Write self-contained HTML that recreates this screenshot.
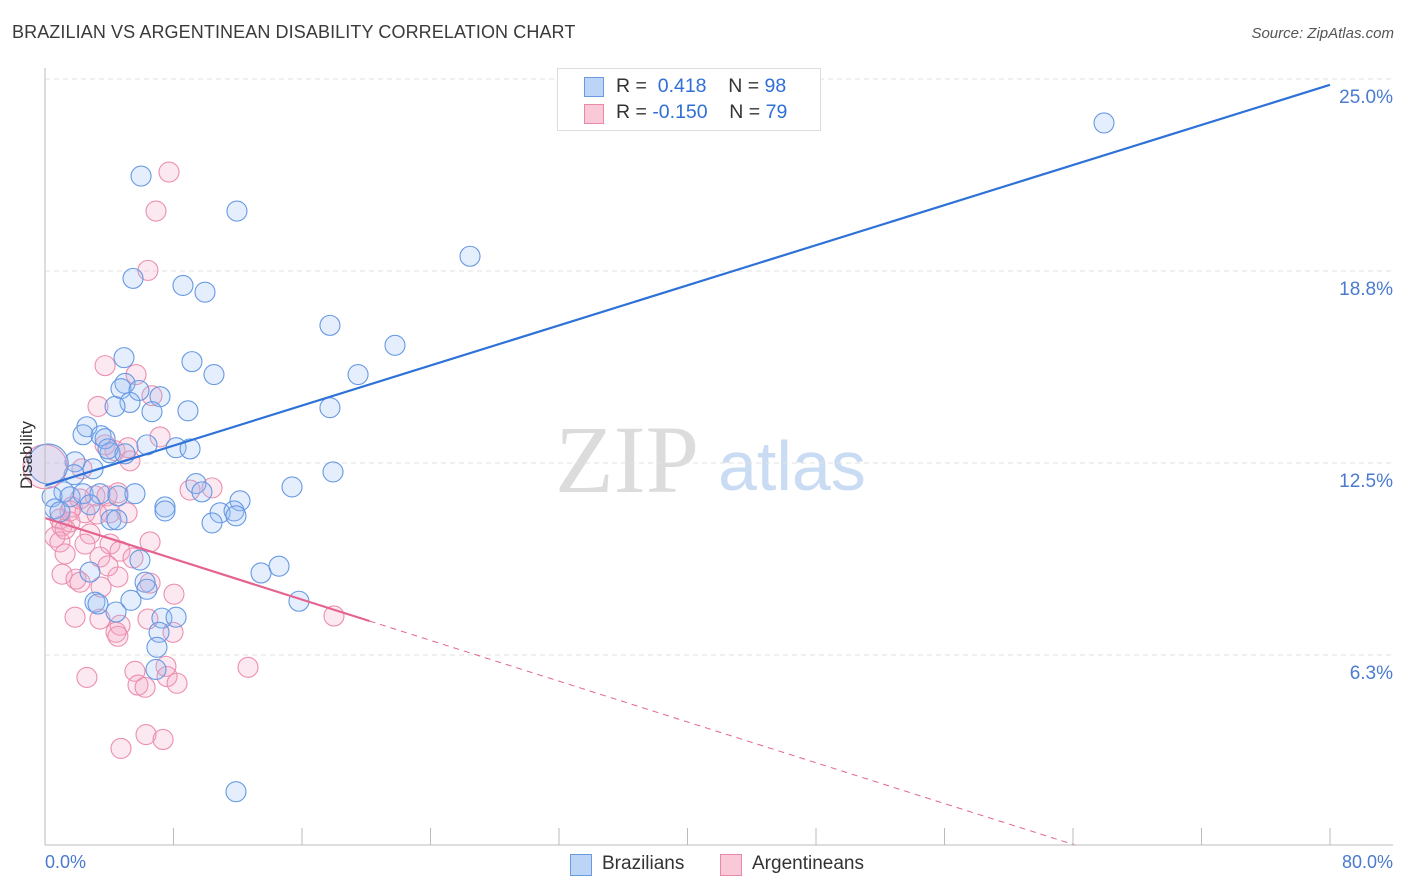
<!DOCTYPE html>
<html><head><meta charset="utf-8"><style>
body{margin:0;background:#fff;font-family:"Liberation Sans",sans-serif;}
#wrap{position:relative;width:1406px;height:892px;overflow:hidden;}
.t{position:absolute;white-space:nowrap;}
</style></head><body>
<div id="wrap">
<div class="t" style="left:12px;top:22px;font-size:18px;color:#3a3a3a;letter-spacing:0.1px">BRAZILIAN VS ARGENTINEAN DISABILITY CORRELATION CHART</div>
<div class="t" style="right:12px;top:25px;font-size:15px;color:#555;font-style:italic">Source: ZipAtlas.com</div>
<svg id="svg" width="1406" height="892" style="position:absolute;left:0;top:0">
<text x="555" y="492" font-family="Liberation Serif,serif" font-size="96" fill="#dcdcdc">ZIP</text>
<text x="718" y="490" font-family="Liberation Sans,sans-serif" font-size="70" fill="#c9dcf3">atlas</text>
<g id="grid"></g><g id="pts"></g><g id="lines"></g><g id="axes"></g>
</svg>
<div style="position:absolute;left:557px;top:68px;width:262px;height:61px;border:1px solid #ddd;background:#fff">
 <div style="position:absolute;left:26px;top:8px;width:18px;height:18px;background:#bcd4f5;border:1px solid #6a9be0"></div>
 <div class="t" style="left:58px;top:6px;font-size:19.5px;color:#333">R = &nbsp;<span style="color:#2f6fd6">0.418</span>&nbsp;&nbsp;&nbsp; N = <span style="color:#2f6fd6">98</span></div>
 <div style="position:absolute;left:26px;top:35px;width:18px;height:18px;background:#f9c9d8;border:1px solid #e889a8"></div>
 <div class="t" style="left:58px;top:32px;font-size:19.5px;color:#333">R = <span style="color:#2f6fd6">-0.150</span>&nbsp;&nbsp;&nbsp; N = <span style="color:#2f6fd6">79</span></div>
</div>
<div style="position:absolute;left:570px;top:854px;width:20px;height:20px;background:#bcd4f5;border:1px solid #6a9be0"></div>
<div class="t" style="left:602px;top:853px;font-size:19px;color:#333">Brazilians</div>
<div style="position:absolute;left:720px;top:854px;width:20px;height:20px;background:#f9c9d8;border:1px solid #e889a8"></div>
<div class="t" style="left:752px;top:853px;font-size:19px;color:#333">Argentineans</div>
<div class="t" style="left:45px;top:852px;font-size:18px;color:#4a7bd0">0.0%</div>
<div class="t" style="right:13px;top:852px;font-size:18px;color:#4a7bd0">80.0%</div>
<div class="t" style="left:-7px;top:445px;font-size:17px;color:#333;transform:rotate(-90deg)">Disability</div>
</div>
<script>
const yTicks=[25,18.75,12.5,6.25];
const yTickLabels=["25.0%","18.8%","12.5%","6.3%"];
const xTicks=[0,8,16,24,32,40,48,56,64,72,80];
const blueX=[5.98,11.95,65.93,26.46,5.48,8.59,9.96,17.74,21.79,4.92,9.15,10.52,19.49,4.98,4.73,5.85,7.16,5.29,4.36,6.66,8.9,17.74,2.61,2.37,3.49,3.74,6.35,8.16,9.03,4.05,1.87,17.93,2.99,1.81,9.4,15.38,9.77,12.14,1.18,0.44,1.56,2.37,3.42,4.54,5.6,7.47,7.47,10.9,11.77,11.89,10.4,2.8,4.11,4.48,0.62,0.93,5.91,13.45,14.57,2.8,6.23,6.35,15.81,5.35,3.11,3.3,4.42,7.28,8.16,7.1,6.97,6.91,11.89,3.92,4.98];
const blueY=[21.84,20.7,23.57,19.23,18.51,18.28,18.06,16.98,16.33,15.93,15.8,15.38,15.38,15.09,14.92,14.86,14.66,14.47,14.34,14.17,14.2,14.3,13.68,13.42,13.39,13.29,13.09,13.0,12.96,12.83,12.54,12.21,12.31,12.12,11.83,11.72,11.56,11.27,11.56,11.4,11.4,11.5,11.5,11.43,11.5,11.07,10.94,10.88,10.94,10.78,10.55,11.14,10.65,10.65,11.01,10.91,9.34,8.92,9.14,8.95,8.62,8.39,8.0,8.03,7.97,7.91,7.65,7.45,7.48,6.99,6.5,5.78,1.8,12.96,12.8];
const pinkX=[7.72,6.91,6.41,3.74,5.67,3.3,6.66,7.16,4.36,3.74,5.29,5.17,2.3,3.11,4.54,9.03,10.4,3.86,1.68,2.49,4.05,5.11,0.93,1.06,1.56,0.62,0.93,1.25,2.8,6.54,4.05,2.49,4.67,3.42,1.25,1.06,1.93,2.18,3.49,4.54,5.48,3.92,6.54,8.03,1.87,3.42,4.67,6.41,4.42,4.54,17.99,7.97,5.6,5.79,6.23,7.53,7.6,8.22,12.64,2.61,4.73,6.29,7.35,2.18,3.24,1.56];
const pinkY=[21.97,20.7,18.77,15.67,15.38,14.34,14.69,13.35,12.9,13.09,12.57,13.0,12.31,11.43,11.53,11.62,11.69,11.43,11.07,10.88,10.88,10.88,10.68,10.45,10.58,10.09,9.93,10.35,10.19,9.93,9.86,9.86,9.63,9.44,9.54,8.88,8.72,8.62,8.46,8.79,9.41,9.15,8.59,8.23,7.48,7.42,7.22,7.42,6.99,6.86,7.52,6.99,5.72,5.27,5.2,5.88,5.55,5.33,5.85,5.52,3.21,3.66,3.5,11.33,10.84,10.94];
const blueBig=[0.2,12.47];
const pinkBig=[0,12.38];
const blueLine=[11.76,24.81];
const pinkLine=[10.71,-0.166,20.2,64.2];
const NS="http://www.w3.org/2000/svg";
function xs(v){return 45+v*1285/80;}
function ys(v){return 847-v*192/6.25;}
function mk(t,a,p){const e=document.createElementNS(NS,t);for(const k in a)e.setAttribute(k,a[k]);p.appendChild(e);return e;}
const grid=document.getElementById('grid'),axes=document.getElementById('axes'),pts=document.getElementById('pts'),lines=document.getElementById('lines');
yTicks.forEach((v,i)=>{
 const l=mk('line',{x1:45,x2:1393,y1:ys(v),y2:ys(v),stroke:'#e2e2e2','stroke-dasharray':'5,4'},grid);
 
 
 const t=mk('text',{x:1393,y:ys(v)+24,'text-anchor':'end','font-size':19,fill:'#4a7bd0','font-family':'Liberation Sans,sans-serif'},axes);
 t.textContent=yTickLabels[i];
 
 
});
const al=mk('line',{x1:45,x2:45,y1:68,y2:845,stroke:'#bbb'},axes);


const bl=mk('line',{x1:45,x2:1393,y1:845,y2:845,stroke:'#bbb'},axes);


xTicks.forEach(v=>{
 const t=mk('line',{x1:xs(v),x2:xs(v),y1:828,y2:845,stroke:'#bbb'},axes);
 
 
});
function dot(x,y,c,r,name){
 const e=mk('circle',{cx:xs(x),cy:ys(y),r:r,fill:c==='b'?'rgba(150,188,242,0.25)':'rgba(245,165,195,0.25)',stroke:c==='b'?'#6699e3':'#ec8fae','stroke-width':1.1},pts);
 
 
}
pinkX.forEach((x,i)=>dot(x,pinkY[i],'p',10,'argentinean-point'));
blueX.forEach((x,i)=>dot(x,blueY[i],'b',10,'brazilian-point'));
dot(pinkBig[0],pinkBig[1],'p',22,'argentinean-point-large');
dot(blueBig[0],blueBig[1],'b',20,'brazilian-point-large');
const b=mk('line',{x1:xs(0),y1:ys(blueLine[0]),x2:xs(80),y2:ys(blueLine[1]),stroke:'#2e72d8','stroke-width':2.2},lines);


const p1=mk('line',{x1:xs(0),y1:ys(pinkLine[0]),x2:xs(pinkLine[2]),y2:ys(pinkLine[0]+pinkLine[1]*pinkLine[2]),stroke:'#e5648f','stroke-width':2.2},lines);


const p2=mk('line',{x1:xs(pinkLine[2]),y1:ys(pinkLine[0]+pinkLine[1]*pinkLine[2]),x2:xs(pinkLine[3]),y2:ys(pinkLine[0]+pinkLine[1]*pinkLine[3]),stroke:'#e5648f','stroke-width':1,'stroke-dasharray':'6,5'},lines);


</script>
</body></html>
